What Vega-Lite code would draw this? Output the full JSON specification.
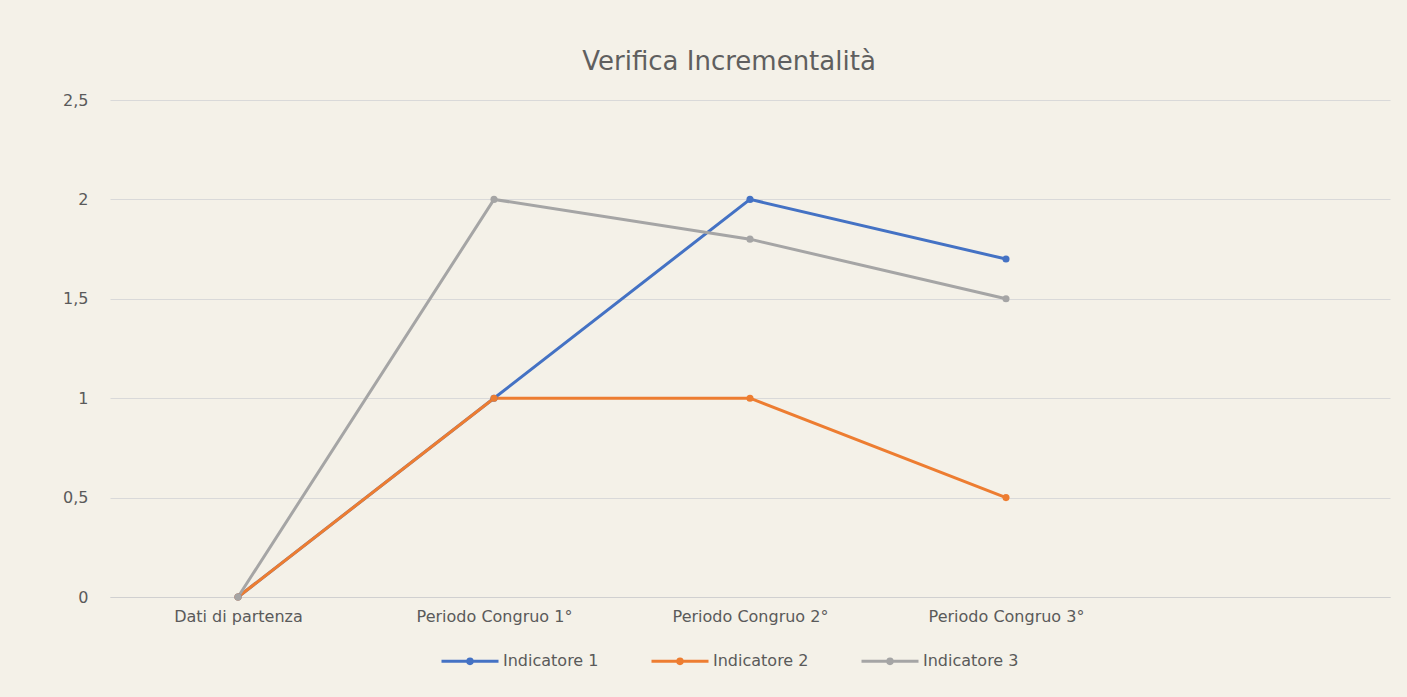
{
  "$schema": "https://vega.github.io/schema/vega-lite/v6.json",
  "width": 1280,
  "height": 497,
  "autosize": {"type": "none"},
  "padding": {"left": 110, "top": 100, "right": 17, "bottom": 100},
  "background": "#f4f1e8",
  "title": {
    "text": "Verifica Incrementalità",
    "font": "DejaVu Sans",
    "fontSize": 26,
    "fontWeight": "normal",
    "color": "#5f5f5f",
    "anchor": "middle",
    "dx": -21,
    "offset": 17
  },
  "data": {
    "values": [
      {"categoria": "Dati di partenza", "serie": "Indicatore 1", "valore": 0},
      {"categoria": "Periodo Congruo 1°", "serie": "Indicatore 1", "valore": 1},
      {"categoria": "Periodo Congruo 2°", "serie": "Indicatore 1", "valore": 2},
      {"categoria": "Periodo Congruo 3°", "serie": "Indicatore 1", "valore": 1.7},
      {"categoria": "Dati di partenza", "serie": "Indicatore 2", "valore": 0},
      {"categoria": "Periodo Congruo 1°", "serie": "Indicatore 2", "valore": 1},
      {"categoria": "Periodo Congruo 2°", "serie": "Indicatore 2", "valore": 1},
      {"categoria": "Periodo Congruo 3°", "serie": "Indicatore 2", "valore": 0.5},
      {"categoria": "Dati di partenza", "serie": "Indicatore 3", "valore": 0},
      {"categoria": "Periodo Congruo 1°", "serie": "Indicatore 3", "valore": 2},
      {"categoria": "Periodo Congruo 2°", "serie": "Indicatore 3", "valore": 1.8},
      {"categoria": "Periodo Congruo 3°", "serie": "Indicatore 3", "valore": 1.5}
    ]
  },
  "mark": {
    "type": "line",
    "point": {"filled": true, "size": 50}
  },
  "encoding": {
    "x": {
      "field": "categoria",
      "type": "ordinal",
      "scale": {
        "type": "point",
        "padding": 0.5,
        "domain": ["Dati di partenza", "Periodo Congruo 1°", "Periodo Congruo 2°", "Periodo Congruo 3°", " "]
      },
      "axis": {
        "title": null,
        "labelAngle": 0,
        "ticks": false,
        "grid": false,
        "domain": true,
        "domainColor": "#d0d0d0",
        "labelPadding": 11,
        "labelFont": "DejaVu Sans",
        "labelFontSize": 16,
        "labelColor": "#5a5a5a"
      }
    },
    "y": {
      "field": "valore",
      "type": "quantitative",
      "scale": {"domain": [0, 2.5], "nice": false},
      "axis": {
        "title": null,
        "values": [0, 0.5, 1, 1.5, 2, 2.5],
        "labelExpr": "replace(format(datum.value, '~g'), '.', ',')",
        "ticks": false,
        "domain": false,
        "grid": true,
        "gridColor": "#d9d9d9",
        "labelPadding": 22,
        "labelFont": "DejaVu Sans",
        "labelFontSize": 16,
        "labelColor": "#5a5a5a"
      }
    },
    "strokeWidth": {
      "field": "serie",
      "type": "nominal",
      "scale": {
        "domain": ["Indicatore 1", "Indicatore 2", "Indicatore 3"],
        "range": [3, 3, 2.2]
      },
      "legend": null
    },
    "color": {
      "field": "serie",
      "type": "nominal",
      "scale": {
        "domain": ["Indicatore 1", "Indicatore 2", "Indicatore 3"],
        "range": ["#4472c4", "#ed7d31", "#a5a5a5"]
      },
      "legend": {
        "title": null,
        "orient": "none",
        "direction": "horizontal",
        "legendX": 330,
        "legendY": 531,
        "symbolType": "M-1,0L1,0M-0.08,0A0.08,0.08,0,1,1,0.08,0A0.08,0.08,0,1,1,-0.08,0",
        "symbolSize": 3249,
        "symbolStrokeWidth": 3,
        "symbolOffset": 0,
        "labelOffset": 3,
        "labelFont": "DejaVu Sans",
        "labelFontSize": 16,
        "labelColor": "#5a5a5a",
        "columnPadding": 46
      }
    }
  },
  "config": {"view": {"stroke": null}}
}
